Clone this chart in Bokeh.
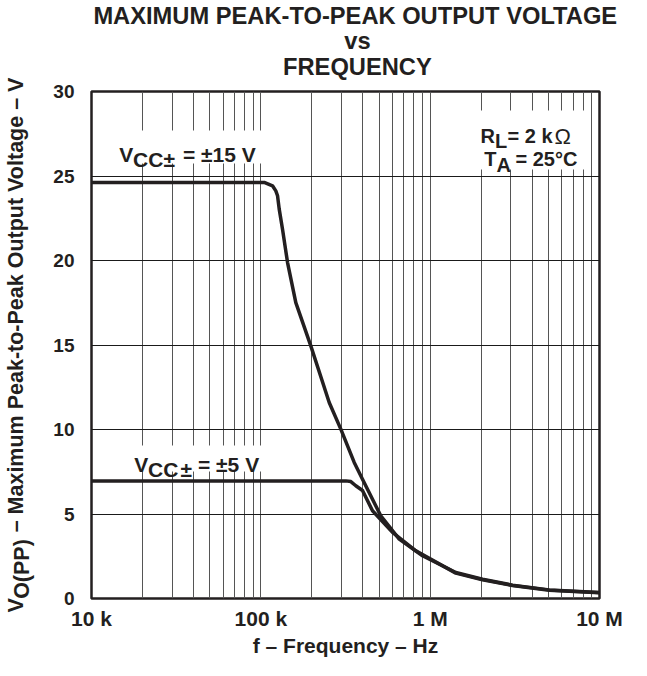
import math
from bokeh.plotting import figure
from bokeh.models import (Range1d, FixedTicker, Label, BoxAnnotation, Title,
                          LinearAxis)
from bokeh.embed import file_html
from bokeh.resources import INLINE

# ---- data ----
freq_15v = [1e4, 1e5, 104.7e3, 117.2e3, 122.6e3, 125.5e3, 128.4e3, 134.3e3, 143.8e3,
            160.9e3, 197.3e3, 253.4e3, 296.7e3, 356e3, 398.5e3, 511e3, 656.5e3,
            901e3, 1.417e6, 2.038e6, 3.064e6, 5.047e6, 1e7]
vpp_15v = [24.62, 24.62, 24.62, 24.42, 24.12, 23.83, 23.04, 21.85, 19.88,
           17.51, 14.95, 11.6, 10.02, 8.05, 7.06, 4.89, 3.51,
           2.53, 1.54, 1.14, 0.79, 0.51, 0.36]

freq_5v = [1e4, 1e5, 317.6e3, 340e3, 363.8e3, 398.5e3, 456.6e3, 599.3e3, 822.7e3,
           1.417e6, 2.038e6, 3.064e6, 5.047e6, 1e7]
vpp_5v = [6.96, 6.96, 6.96, 6.92, 6.67, 6.39, 5.19, 3.91, 2.82,
          1.50, 1.11, 0.77, 0.49, 0.34]

xtick_values = [1e4, 1e5, 1e6, 1e7]
xtick_labels = ["10 k", "100 k", "1 M", "10 M"]
ytick_values = [0, 5, 10, 15, 20, 25, 30]

INK = "#231f20"
FONT = "Liberation Sans"
NB = "\u00a0"

p = figure(width=631, height=660, x_axis_type="log",
           x_range=Range1d(1e4, 1e7), y_range=Range1d(0, 30),
           output_backend="svg", toolbar_location=None,
           min_border_left=91, min_border_right=32,
           min_border_top=91, min_border_bottom=62)
p.background_fill_color = "white"
p.border_fill_color = "white"
p.outline_line_color = INK
p.outline_line_width = 2.5

minor = [m * 10 ** e for e in (4, 5, 6) for m in range(2, 10)]
p.xaxis.ticker = FixedTicker(ticks=xtick_values, minor_ticks=minor)
p.xaxis.major_label_overrides = {v: t for v, t in zip(xtick_values, xtick_labels)}
p.yaxis.ticker = FixedTicker(ticks=ytick_values, minor_ticks=[])


def style_axis(ax, size):
    ax.axis_line_color = None
    ax.major_tick_line_color = None
    ax.minor_tick_line_color = None
    ax.major_tick_out = 0
    ax.major_tick_in = 0
    ax.minor_tick_out = 0
    ax.minor_tick_in = 0
    ax.major_label_text_font = FONT
    ax.major_label_text_font_style = "bold"
    ax.major_label_text_font_size = size
    ax.major_label_text_color = INK
    ax.axis_label_text_font = FONT
    ax.axis_label_text_font_style = "bold"
    ax.axis_label_text_color = INK


style_axis(p.xaxis[0], "21px")
style_axis(p.yaxis[0], "19px")

p.yaxis.major_label_standoff = 17
p.xaxis.major_label_standoff = 8
p.xaxis.axis_label = "f – Frequency – Hz"
p.xaxis.axis_label_text_font_size = "21px"
p.xaxis.axis_label_standoff = 1

# y-axis title: subscript part on the main axis (padded so it sits low),
# the rest on an extra axis whose label overlaps towards the left edge
p.yaxis.axis_label = "O(PP)" + NB * 75
p.yaxis.axis_label_text_font_size = "21.5px"
p.yaxis.axis_label_standoff = 16

yl = LinearAxis(ticker=FixedTicker(ticks=[], minor_ticks=[]))
style_axis(yl, "19px")
yl.major_label_standoff = 0
yl.axis_label = "V" + NB * 11 + "– Maximum Peak-to-Peak Output Voltage – V"
yl.axis_label_text_font_size = "21.5px"
yl.axis_label_standoff = -20
p.add_layout(yl, "left")

p.xgrid.grid_line_color = "#555555"
p.xgrid.grid_line_width = 1
p.xgrid.minor_grid_line_color = "#555555"
p.xgrid.minor_grid_line_width = 1
p.ygrid.grid_line_color = "#1a1a1a"
p.ygrid.grid_line_width = 1

p.line(freq_15v, vpp_15v, line_color=INK, line_width=3.5, line_join="round")
p.line(freq_5v, vpp_5v, line_color=INK, line_width=3.5, line_join="round")

# ---- title: three lines stacked above the frame ----
TSIZE = 23.7
TCENTER = 364.9
title_lines = ["FREQUENCY", "vs", "MAXIMUM PEAK-TO-PEAK OUTPUT VOLTAGE"]
title_em = [6.278, 1.112, 22.28]
title_standoff = [0, -5, -1]
p.add_layout(Title(text=NB, text_font_size="6px", standoff=3.5), "above")
for txt, em, so in zip(title_lines, title_em, title_standoff):
    w = em * TSIZE
    p.add_layout(Title(text=txt, text_font=FONT, text_font_style="bold",
                       text_font_size=f"{TSIZE}px", text_color=INK,
                       align="left", offset=(TCENTER - w / 2) - 99,
                       standoff=so), "above")

# ---- page-pixel helper for in-frame annotations ----
X0, DEC = 99.0, 508.0 / 3
Y0, PPV = 606.0, 507.0 / 30


def at(xp, yp):
    return 10 ** (4 + (xp - X0) / DEC), (Y0 - yp) / PPV


def box(x1, y1, x2, y2):
    l, t = at(x1, y1)
    r, b = at(x2, y2)
    p.add_layout(BoxAnnotation(left=l, right=r, top=t, bottom=b,
                               fill_color="white", fill_alpha=1.0,
                               line_color=None, level="annotation"))


def lab(text, xp, yp, size, style="bold"):
    x, y = at(xp, yp)
    p.add_layout(Label(x=x, y=y, text=text, text_font=FONT,
                       text_font_size=f"{size}px", text_font_style=style,
                       text_color=INK, text_align="left",
                       text_baseline="alphabetic"))


# white knock-out boxes behind the in-plot texts
box(120, 138, 272, 171)
box(135, 453, 272, 479)
box(482, 118, 592, 177)

# curve labels
lab("V", 126.7, 161.7, 21)
lab("CC", 140.5, 166.7, 21)
lab("±", 171, 166.7, 21)
lab("= ±15 V", 190.5, 161.7, 21)

lab("V", 141.7, 471.7, 21)
lab("CC", 155.5, 476.7, 21)
lab("±", 188, 476.7, 21)
lab("= ±5 V", 205.5, 471.7, 21)

# conditions
lab("R", 488, 143.5, 20)
lab("L", 502.5, 148.5, 20)
lab("= 2 k", 515, 143.5, 20)
lab("Ω", 562, 143.5, 22, style="normal")
lab("T", 491.7, 166.7, 20)
lab("A", 504, 172.5, 20)
lab("= 25°C", 523, 166.7, 20)

open("out.html", "w").write(file_html(p, INLINE))
